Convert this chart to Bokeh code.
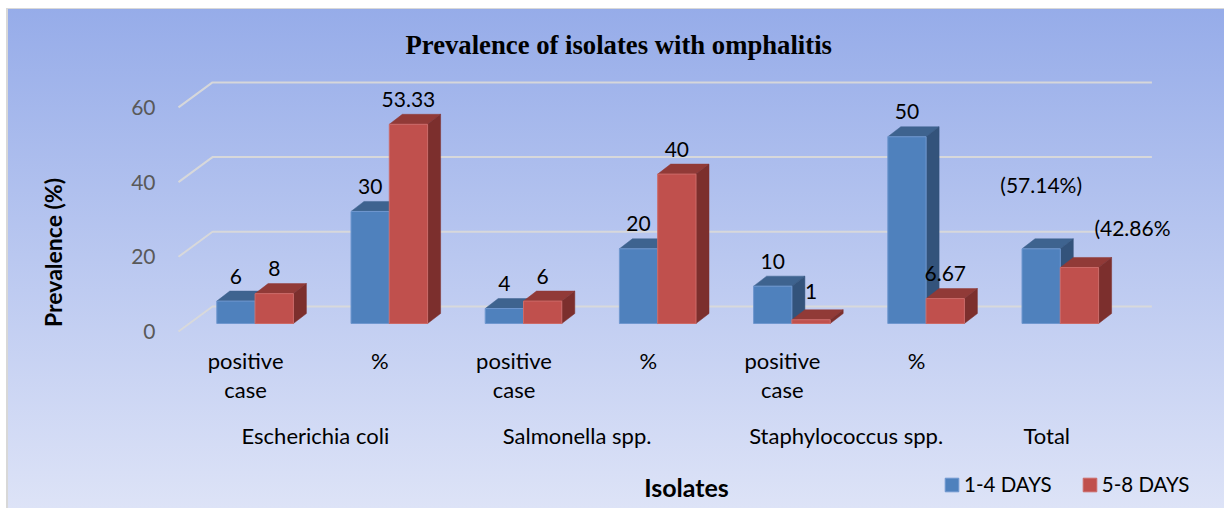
from math import pi
from bokeh.plotting import figure
from bokeh.models import Range1d, FixedTicker, LinearAxis, Legend, LegendItem, ColumnDataSource, Label
from bokeh.core.properties import value
from bokeh.embed import file_html
from bokeh.resources import INLINE

# ---- data ----
title_text = "Prevalence of isolates with omphalitis"
y_axis_title = "Prevalence (%)"
x_axis_title = "Isolates"
series_names = ["1-4 DAYS", "5-8 DAYS"]
categories = ["positive\ncase", "%", "positive\ncase", "%", "positive\ncase", "%", ""]
groups = ["Escherichia coli", "Salmonella spp.", "Staphylococcus spp.", "Total"]
days_1_4 = [6, 30, 4, 20, 10, 50, 20]
days_5_8 = [8, 53.33, 6, 40, 1, 6.67, 15]
labels_1_4 = ["6", "30", "4", "20", "10", "50", "(57.14%)"]
labels_5_8 = ["8", "53.33", "6", "40", "1", "6.67", "(42.86%"]
y_ticks = [0, 20, 40, 60]

# ---- layout constants (pixels) ----
FONT = "Lato"
W, H = 1216, 500
F_L, F_T = 170, 67   # column of x=0 inside the figure; height of the title band
Y0 = 323             # row of value 0 on the front plane, inside the figure
PX_X = 134.2         # pixels per category
PX_Y = 3.735         # pixels per value unit
AXIS1_ROW, AXIS2_ROW = 325, 400   # rows where the two category axes hang from
BAR_W = 38.3 / PX_X
PLANE_DX, PLANE_DY = 9.5 / PX_X, 8 / PX_Y     # front of the bars vs the axis plane
DEPTH_DX, DEPTH_DY = 13 / PX_X, 10 / PX_Y     # depth of each bar
WALL_DX, WALL_DY = 34 / PX_X, 25 / PX_Y       # back wall vs the axis plane
LABEL_LIFT = 25
nudge_x_1 = [0, 0, 0, 0, 0, 0, 0]
nudge_y_1 = [0, 0, 0, 0, 0, 0, 39]
nudge_x_2 = [0, 0, 0, 0, 0, 0, 53]
nudge_y_2 = [0, 0, 0, 0, 3, 0, 15]

n = len(categories)
p = figure(
    width=W, height=H, output_backend="svg", toolbar_location=None,
    x_range=Range1d(-F_L / PX_X, (W - F_L) / PX_X),
    y_range=Range1d((Y0 - H) / PX_Y, (Y0 - F_T) / PX_Y),
    min_border_left=0, min_border_right=0, min_border_top=F_T, min_border_bottom=0,
    border_fill_color=None, background_fill_color=None, outline_line_color=None,
    x_axis_type=None, y_axis_type=None,
    styles={
        "background": "linear-gradient(180deg, #96ACE9 0%, #DDE3F7 100%)",
        "box-shadow": "inset 0 1px 0 #D8D8D8, -2px 0 0 #D8D8D8",
        "margin-left": "8px",
        "margin-top": "8px",
    },
)

# title
p.title.text = title_text
p.title.align = "left"
p.title.offset = 227 + F_L
p.title.standoff = 32
p.title.text_font = "Liberation Serif"
p.title.text_font_size = "26.7px"
p.title.text_font_style = "bold"
p.title.text_color = "#000000"

# axes
def plain(axis, size, color, standoff):
    axis.axis_line_color = None
    axis.major_tick_line_color = None
    axis.minor_tick_line_color = None
    axis.major_tick_out = 0
    axis.major_tick_in = 0
    axis.minor_tick_out = 0
    axis.minor_tick_in = 0
    axis.major_label_standoff = standoff
    axis.major_label_text_font = FONT
    axis.major_label_text_font_size = size
    axis.major_label_text_color = color

y_axis = LinearAxis(ticker=FixedTicker(ticks=y_ticks), fixed_location=0)
plain(y_axis, "21px", "#595959", 23)
p.add_layout(y_axis, "left")

cat_ticks = [i + 0.5 for i in range(n)]
x_axis = LinearAxis(ticker=FixedTicker(ticks=cat_ticks),
                    major_label_overrides={t: c for t, c in zip(cat_ticks, categories)},
                    fixed_location=(Y0 - AXIS1_ROW) / PX_Y)
plain(x_axis, "22px", "#000000", 13)
x_axis.major_label_text_line_height = 1.1
p.add_layout(x_axis, "below")

group_ticks = [1.02, 2.97, 4.975, 6.47]
g_axis = LinearAxis(ticker=FixedTicker(ticks=group_ticks),
                    major_label_overrides={t: g for t, g in zip(group_ticks, groups)},
                    fixed_location=(Y0 - AXIS2_ROW) / PX_Y)
plain(g_axis, "22px", "#000000", 13)
p.add_layout(g_axis, "below")

# gridlines: front corner to back wall, then along the wall
x_end = n
p.multi_line(
    xs=[[0, WALL_DX, x_end + WALL_DX] for _ in y_ticks],
    ys=[[t, t + WALL_DY, t + WALL_DY] for t in y_ticks],
    line_color="#D9D9D9", line_width=2, line_alpha=0.95,
)

# bars
def draw_series(vals, offset, front, top, side, edge):
    x0 = [i + 0.5 + offset * BAR_W + PLANE_DX - BAR_W for i in range(n)]
    x1 = [x + BAR_W for x in x0]
    top_xs, top_ys, side_xs, side_ys = [], [], [], []
    for a, b, v in zip(x0, x1, vals):
        t = v + PLANE_DY
        top_xs.append([a, a + DEPTH_DX, b + DEPTH_DX, b])
        top_ys.append([t, t + DEPTH_DY, t + DEPTH_DY, t])
        side_xs.append([b, b + DEPTH_DX, b + DEPTH_DX, b])
        side_ys.append([PLANE_DY, PLANE_DY + DEPTH_DY, t + DEPTH_DY, t])
    p.patches(top_xs, top_ys, fill_color=top, line_color=top, line_width=0.5)
    p.patches(side_xs, side_ys, fill_color=side, line_color=side, line_width=0.5)
    src = ColumnDataSource(dict(l=x0, r=x1, b=[PLANE_DY] * n, t=[v + PLANE_DY for v in vals]))
    return p.quad(left="l", right="r", bottom="b", top="t", source=src,
                  fill_color=front, line_color=edge, line_width=1)

r_blue = draw_series(days_1_4, 0, "#4F81BD", "#3E638F", "#33537B", "#6F97CF")
r_red = draw_series(days_5_8, 1, "#C0504D", "#913A37", "#7C2F2D", "#CC6A68")

# data labels
def draw_labels(vals, labels, offset, nx, ny):
    xs = [i + 0.5 + offset * BAR_W + PLANE_DX - BAR_W / 2 for i in range(n)]
    ys = [v + PLANE_DY for v in vals]
    src = ColumnDataSource(dict(x=xs, y=ys, text=labels,
                                dx=nx, dy=[-LABEL_LIFT - d for d in ny]))
    p.text(x="x", y="y", text="text", source=src, x_offset="dx", y_offset="dy",
           text_font=value(FONT), text_font_size="21px", text_color="#000000",
           text_align="center", text_baseline="middle")

draw_labels(days_1_4, labels_1_4, 0, nudge_x_1, nudge_y_1)
draw_labels(days_5_8, labels_5_8, 1, nudge_x_2, nudge_y_2)

# axis titles
p.add_layout(Label(x=44, y=H - 244, x_units="screen", y_units="screen", text=y_axis_title,
                   angle=pi / 2, text_align="center", text_baseline="middle",
                   text_font=FONT, text_font_style="bold", text_font_size="23px", text_color="#000000"))
p.add_layout(Label(x=678, y=H - 478, x_units="screen", y_units="screen", text=x_axis_title,
                   text_align="center", text_baseline="middle",
                   text_font=FONT, text_font_style="bold", text_font_size="25px", text_color="#000000"))

# legend: the swatch is drawn inset by 10% of the glyph box
legend = Legend(items=[LegendItem(label=series_names[0], renderers=[r_blue]),
                       LegendItem(label=series_names[1], renderers=[r_red])],
                orientation="horizontal", location=(935, 12),
                background_fill_alpha=0, border_line_color=None, padding=0, margin=0,
                glyph_width=17, glyph_height=17, label_standoff=4, spacing=29,
                label_text_font=FONT, label_text_font_size="20.5px", label_text_color="#000000")
p.add_layout(legend, "center")

open("out.html", "w").write(file_html(p, INLINE))
